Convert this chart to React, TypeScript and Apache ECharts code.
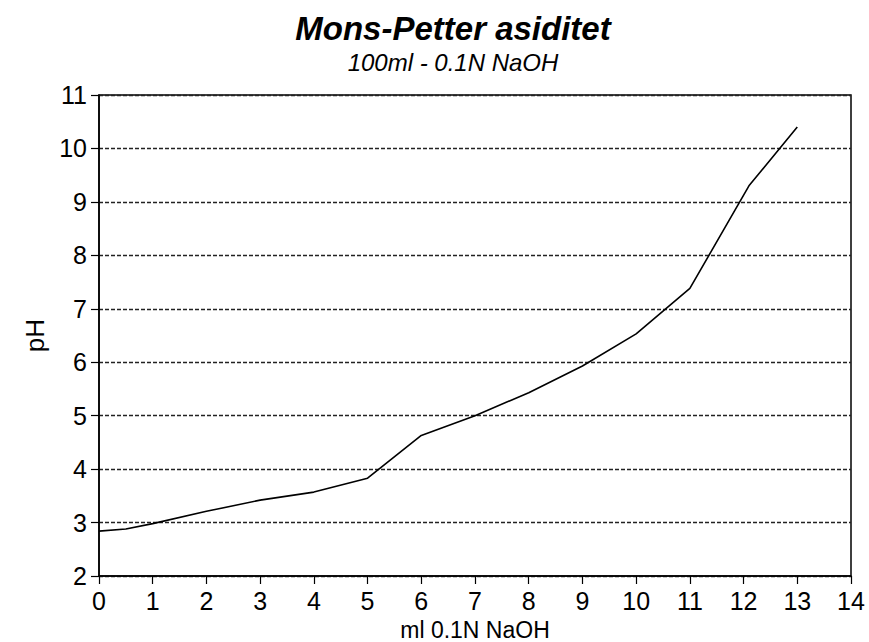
import React, { useEffect, useRef } from "react";
import * as echarts from "echarts";

const mlNaOH = [0, 0.5, 1, 2, 3, 4, 5, 6, 7, 8, 9, 10, 11, 12.1, 13];
const pH = [2.84, 2.88, 2.98, 3.21, 3.42, 3.57, 3.83, 4.63, 5.0, 5.43, 5.93, 6.53, 7.38, 9.3, 10.4];
const titleText = "Mons-Petter asiditet";
const subtitleText = "100ml - 0.1N NaOH";
const xName = "ml 0.1N NaOH";
const yName = "pH";

const FONT = "'Liberation Sans', Arial, Helvetica, sans-serif";

export default function App() {
  const ref = useRef<HTMLDivElement>(null);
  useEffect(() => {
    if (!ref.current) return;
    const chart = echarts.init(ref.current, null, { renderer: "svg" });
    const data = mlNaOH.map((x, i) => [x, pH[i]]);
    chart.setOption({
      animation: false,
      backgroundColor: "#ffffff",
      title: [
        {
          text: titleText,
          left: 448,
          top: 7,
          textAlign: "center",
          textStyle: { fontFamily: FONT, fontSize: 33, fontWeight: "bold", fontStyle: "italic", color: "#000" },
        },
        {
          text: subtitleText,
          left: 448,
          top: 45,
          textAlign: "center",
          textStyle: { fontFamily: FONT, fontSize: 24, fontWeight: "normal", fontStyle: "italic", color: "#000" },
        },
      ],
      grid: {
        left: 99,
        right: 18,
        top: 95,
        bottom: 66,
        containLabel: false,
        outerBoundsMode: "none",
        show: true,
        borderColor: "#000",
        borderWidth: 1.5,
        backgroundColor: "transparent",
      },
      xAxis: {
        type: "value",
        min: 0,
        max: 14,
        interval: 1,
        name: xName,
        nameLocation: "middle",
        nameGap: 42,
        nameTextStyle: { fontFamily: FONT, fontSize: 23, color: "#000", lineHeight: 23 },
        axisLine: { show: true, onZero: false, lineStyle: { color: "#000", width: 1.5 } },
        axisTick: { show: true, length: 8, lineStyle: { color: "#000", width: 1.2 } },
        axisLabel: { fontFamily: FONT, fontSize: 25, color: "#000", margin: 12 },
        splitLine: { show: false },
      },
      yAxis: {
        type: "value",
        min: 2,
        max: 11,
        interval: 1,
        name: yName,
        nameLocation: "middle",
        nameGap: 50,
        nameRotate: 90,
        nameTextStyle: { fontFamily: FONT, fontSize: 26, color: "#000" },
        axisLine: { show: true, lineStyle: { color: "#000", width: 1.5 } },
        axisTick: { show: true, length: 8, lineStyle: { color: "#000", width: 1.2 } },
        axisLabel: { fontFamily: FONT, fontSize: 25, color: "#000", margin: 12 },
        splitLine: { show: true, lineStyle: { color: "#222", width: 1.3, type: [4, 2] } },
      },
      series: [
        {
          type: "line",
          data,
          showSymbol: false,
          symbol: "none",
          smooth: false,
          lineStyle: { color: "#000", width: 1.6 },
          silent: true,
        },
      ],
    });
    return () => chart.dispose();
  }, []);
  return (
    <div
      ref={ref}
      style={{ position: "fixed", left: 0, top: 0, width: 869, height: 642, background: "#fff" }}
    />
  );
}
